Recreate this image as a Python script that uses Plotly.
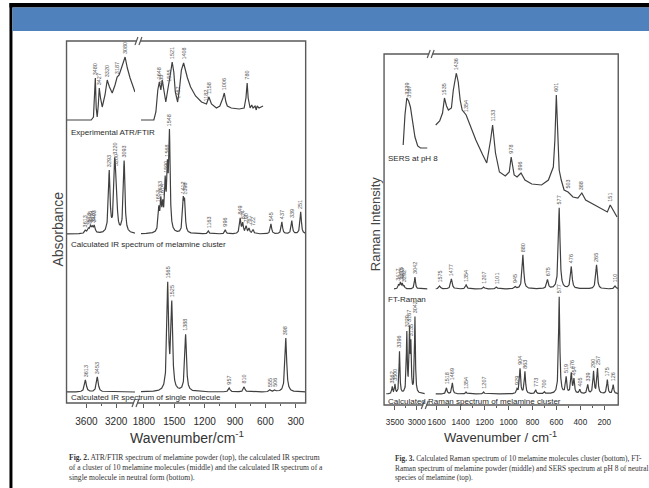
import numpy as np
import plotly.graph_objects as go

W, H = 649, 488

# ---------------------------------------------------------------------------
# Fig. 2 - IR spectra of melamine (absorbance, arbitrary units)
# ---------------------------------------------------------------------------
# Experimental ATR/FTIR trace, high-wavenumber segment
ftir_hi_wn = [3867, 3535, 3505, 3493, 3480, 3468, 3455, 3440, 3427, 3410, 3387, 3350,
              3320, 3290, 3253, 3215, 3187, 3160, 3120, 3080, 3050, 3013, 2947]
ftir_hi_ab = [0, 0, 3, 20, 42, 12, 3, 15, 32, 22, 13, 25,
              40, 33, 27, 35, 43, 45, 55, 63, 52, 42, 28]
ftir_hi_marked = [3480, 3427, 3320, 3187, 3080]
# Experimental ATR/FTIR trace, fingerprint segment
ftir_lo_wn = [1829, 1702, 1682, 1663, 1648, 1633, 1619, 1604, 1584, 1565, 1555, 1540,
              1521, 1505, 1490, 1467, 1450, 1430, 1408, 1390, 1370, 1339, 1290, 1231,
              1182, 1158, 1133, 1084, 1050, 1020, 1006, 990, 976, 937, 859, 810, 792,
              780, 770, 751, 735, 722, 702, 690, 682, 663, 623]
ftir_lo_ab = [0, 0, 8, 30, 38, 30, 40, 28, 18, 30, 35, 45,
              58, 48, 28, 18, 30, 50, 57, 50, 42, 33, 24, 18,
              16, 23, 16, 12, 14, 22, 27, 18, 14, 12, 11, 12, 22,
              37, 22, 12, 15, 12, 14, 10, 14, 12, 14]
ftir_lo_marked = [1648, 1633, 1555, 1521, 1467, 1408, 1182, 1158, 1006, 780]

# Calculated IR spectrum, cluster of 10 molecules (band centre, band height)
clus_hi_pos = [3613, 3573, 3545, 3520, 3493, 3293, 3220, 3200, 3093]
clus_hi_amp = [3, 4, 6, 5, 7, 61, 60, 45, 72]
clus_lo_pos = [1653, 1633, 1614, 1590, 1568, 1548, 1412, 1398, 1163, 996,
               849, 824, 790, 761, 722, 545, 437, 339, 251]
clus_lo_amp = [22, 28, 22, 45, 55, 95, 30, 28, 3, 4,
               15, 10, 7, 5, 4, 10, 12, 13, 22]

# Calculated IR spectrum, single molecule in neutral form
mono_hi_pos = [3613, 3453]
mono_hi_amp = [12, 15]
mono_lo_pos = [1565, 1525, 1388, 957, 810, 555, 506, 398]
mono_lo_amp = [105, 85, 57, 4, 5, 2, 2, 54]

# baselines of the stacked IR traces
IR_BASE = {"ftir": 283, "cluster": 169, "mono": 11}

# ---------------------------------------------------------------------------
# Fig. 3 - Raman spectra of melamine (intensity, arbitrary units)
# ---------------------------------------------------------------------------
# SERS at pH 8, high-wavenumber segment
sers_hi_wn = [3312, 3271, 3229, 3187, 3146, 3104, 3042, 2979, 2917, 2760]
sers_hi_in = [80, 110, 127, 124, 118, 107, 88, 79, 77, 77]
sers_hi_marked = [3229, 3187]
# SERS at pH 8, fingerprint segment
sers_lo_wn = [1608, 1575, 1551, 1535, 1518, 1502, 1477, 1461, 1436, 1420, 1404, 1387,
              1354, 1273, 1215, 1182, 1150, 1133, 1109, 1076, 1027, 994, 978, 953,
              929, 896, 863, 806, 724, 667, 626, 613, 601, 589, 577, 560, 536, 503,
              462, 421, 388, 356, 257, 175, 151, 126, 94]
sers_lo_in = [100, 104, 112, 127, 119, 115, 117, 135, 152, 143, 125, 115,
              110, 85, 70, 62, 85, 100, 72, 53, 49, 53, 68, 50,
              48, 52, 45, 41, 40, 45, 58, 85, 130, 85, 55, 45, 35, 33,
              28, 27, 32, 25, 18, 13, 20, 15, 8]
sers_lo_marked = [1535, 1436, 1354, 1133, 978, 896, 601, 503, 388, 151]

# FT-Raman of melamine powder (band centre, band height)
ftr_hi_pos = [3417, 3375, 3333, 3292, 3042]
ftr_hi_amp = [4, 6, 5, 3, 12]
ftr_lo_pos = [1575, 1477, 1354, 1207, 1101, 945, 880, 675, 577, 476, 265, 110]
ftr_lo_amp = [3, 10, 4, 2, 2, 2, 34, 9, 81, 22, 24, 3]

# Calculated Raman spectrum of the melamine cluster
craman_hi_pos = [3562, 3500, 3396, 3229, 3167, 3135, 3042]
craman_hi_amp = [7, 9, 42, 60, 60, 45, 76]
craman_lo_pos = [1518, 1469, 1354, 1207, 929, 904, 863, 773, 700, 577,
                 519, 476, 454, 405, 339, 290, 257, 175, 126]
craman_lo_amp = [6, 11, 2, 2, 4, 25, 22, 4, 2, 97,
                 16, 20, 14, 4, 9, 22, 25, 14, 9]

# baselines of the stacked Raman traces
RAMAN_BASE = {"sers": 180, "ft": 116, "calc": 11}

# axis tick values
ir_hi_ticks = [3600, 3200]
ir_lo_ticks = [1800, 1500, 1200, 900, 600, 300]
ra_hi_ticks = [3500, 3000]
ra_lo_ticks = [1600, 1400, 1200, 1000, 800, 600, 400, 200]

# ---------------------------------------------------------------------------
LINE = "#404040"
FRAME = "#5a5a5a"
TXT = "#2a2a2a"


def bands(grid, pos, amp, fwhm):
    """Sum of Lorentzian bands evaluated on a wavenumber grid."""
    g = np.asarray(grid, float)[:, None]
    p = np.asarray(pos, float)[None, :]
    a = np.asarray(amp, float)[None, :]
    return (a / (1.0 + ((g - p) / (fwhm / 2.0)) ** 2)).sum(axis=1)


def px_x(x):
    return x / W


def px_y(y):
    return 1 - y / H


fig = go.Figure()
annotations = []


def add_trace(x, y, xa, ya):
    fig.add_trace(go.Scatter(x=x, y=y, mode="lines", xaxis=xa, yaxis=ya,
                             line=dict(color=LINE, width=1.2),
                             hoverinfo="skip", showlegend=False))


def mark(xa, ya, wn, yval):
    annotations.append(dict(x=wn, y=yval, xref=xa, yref=ya, text=str(int(round(wn))),
                            textangle=-90, showarrow=False, xanchor="center",
                            yanchor="bottom", yshift=1,
                            font=dict(size=5.5, color="#555", family="Liberation Sans")))


def band_spectrum(lo, hi, step, pos, amp, fwhm, base, xa, ya, label=True):
    grid = np.arange(lo, hi + step, step)
    add_trace(grid, base + bands(grid, pos, amp, fwhm), xa, ya)
    if label:
        tops = base + bands(pos, pos, amp, fwhm)
        for p, t in zip(pos, tops):
            mark(xa, ya, p, t)


def point_spectrum(wn, val, marked, base, xa, ya):
    add_trace(wn, [base + v for v in val], xa, ya)
    order = np.argsort(wn)
    ws = np.asarray(wn, float)[order]
    vs = np.asarray(val, float)[order]
    for m in marked:
        mark(xa, ya, m, base + float(np.interp(m, ws, vs)))


# ----- IR panel (x = high segment, x2 = fingerprint segment, y) -----
point_spectrum(ftir_hi_wn, ftir_hi_ab, ftir_hi_marked, IR_BASE["ftir"], "x", "y")
point_spectrum(ftir_lo_wn, ftir_lo_ab, ftir_lo_marked, IR_BASE["ftir"], "x2", "y")
band_spectrum(2947, 3867, 2, clus_hi_pos, clus_hi_amp, 26, IR_BASE["cluster"], "x", "y")
band_spectrum(202, 1829, 1, clus_lo_pos, clus_lo_amp, 16, IR_BASE["cluster"], "x2", "y")
band_spectrum(2947, 3867, 2, mono_hi_pos, mono_hi_amp, 30, IR_BASE["mono"], "x", "y")
band_spectrum(202, 1829, 1, mono_lo_pos, mono_lo_amp, 20, IR_BASE["mono"], "x2", "y")

# ----- Raman panel (x3 = high segment, x4 = fingerprint segment, y2) -----
point_spectrum(sers_hi_wn, sers_hi_in, sers_hi_marked, RAMAN_BASE["sers"], "x3", "y2")
point_spectrum(sers_lo_wn, sers_lo_in, sers_lo_marked, RAMAN_BASE["sers"], "x4", "y2")
band_spectrum(2760, 3521, 2, ftr_hi_pos, ftr_hi_amp, 30, RAMAN_BASE["ft"], "x3", "y2")
band_spectrum(85, 1608, 1, ftr_lo_pos, ftr_lo_amp, 16, RAMAN_BASE["ft"], "x4", "y2")
band_spectrum(2820, 3700, 2, craman_hi_pos, craman_hi_amp, 24, RAMAN_BASE["calc"], "x3", "y2")
band_spectrum(85, 1608, 1, craman_lo_pos, craman_lo_amp, 12, RAMAN_BASE["calc"], "x4", "y2")


def xaxis(domain_px, rng, ticks, anchor, fsize):
    minor = []
    for a, b in zip(ticks[:-1], ticks[1:]):
        minor.append((a + b) / 2)
    return dict(domain=[px_x(domain_px[0]), px_x(domain_px[1])], range=rng, anchor=anchor,
                tickmode="array", tickvals=ticks, ticks="outside", ticklen=4,
                tickwidth=1, tickcolor=FRAME, showline=False, showgrid=False,
                zeroline=False, ticklabelstandoff=5, tickangle=0,
                tickfont=dict(size=fsize, color=TXT, family="Liberation Sans"),
                minor=dict(tickmode="array", tickvals=minor, ticks="outside",
                           ticklen=2, tickcolor=FRAME))


def yaxis(top_px, bottom_px, anchor):
    return dict(domain=[px_y(bottom_px), px_y(top_px)], range=[0, bottom_px - top_px],
                anchor=anchor, visible=False, showgrid=False, zeroline=False)


IR_L, IR_R, IR_T, IR_B = 62, 303, 41, 403
RA_L, RA_R, RA_T, RA_B = 382, 618, 54, 405

layout = dict(
    width=W, height=H, margin=dict(l=0, r=0, t=0, b=0),
    paper_bgcolor="white", plot_bgcolor="rgba(0,0,0,0)",
    xaxis=xaxis((IR_L, 131), [3867, 2947], ir_hi_ticks, "y", 10),
    xaxis2=xaxis((134, IR_R), [1859, 202], ir_lo_ticks, "y", 10),
    xaxis3=xaxis((RA_L, 427), [3750, 2727], ra_hi_ticks, "y2", 8.2),
    xaxis4=xaxis((429, RA_R), [1650, 84], ra_lo_ticks, "y2", 8.2),
    yaxis=yaxis(IR_T, IR_B, "x"),
    yaxis2=yaxis(RA_T, RA_B, "x3"),
)

shapes = []


def rect(x0, y0, x1, y1, fill=None, line=None, width=0):
    shapes.append(dict(type="rect", xref="paper", yref="paper",
                       x0=px_x(x0), x1=px_x(x1), y0=px_y(y1), y1=px_y(y0),
                       fillcolor=fill if fill else "rgba(0,0,0,0)",
                       line=dict(color=line if line else "rgba(0,0,0,0)", width=width),
                       layer="above"))


def seg(x0, y0, x1, y1, color=FRAME, width=1.2):
    shapes.append(dict(type="line", xref="paper", yref="paper",
                       x0=px_x(x0), x1=px_x(x1), y0=px_y(y0), y1=px_y(y1),
                       line=dict(color=color, width=width), layer="above"))


# slide background: black edge and blue title band
rect(4.5, 3, 7.5, H, fill="black")
rect(4.5, 3, W, 7.5, fill="black")
rect(7.5, 7.5, W, 31, fill="#4f81bd")

# plot frames
rect(IR_L, IR_T, IR_R, IR_B, line=FRAME, width=1.4)
rect(RA_L, RA_T, RA_R, RA_B, line=FRAME, width=1.4)


def axis_break(xc, yc):
    rect(xc - 1.5, yc - 2, xc + 1.5, yc + 2, fill="white")
    seg(xc - 3.5, yc + 4, xc - 0.5, yc - 4)
    seg(xc + 0.5, yc + 4, xc + 3.5, yc - 4)


axis_break(134.5, IR_T)
axis_break(131.5, IR_B)
axis_break(429, RA_T)
axis_break(423, RA_B)


def text(x, y, s, size=8, anchor="left", angle=0, family="Liberation Sans", color=TXT,
         yanchor="middle", align="left"):
    annotations.append(dict(x=px_x(x), y=px_y(y), xref="paper", yref="paper", text=s,
                            showarrow=False, xanchor=anchor, yanchor=yanchor,
                            textangle=angle, align=align,
                            font=dict(size=size, color=color, family=family)))


text(65, 133, "Experimental ATR/FTIR")
text(65, 244, "Calculated IR spectrum of melamine cluster")
text(65, 397, "Calculated IR spectrum of single molecule")
text(53, 229, "Absorbance", size=14, anchor="center", angle=-90, color="#444")
text(183, 437, "Wavenumber/cm<sup>-1</sup>", size=14, anchor="center", color="#333")

text(384, 158, "SERS at pH 8")
text(384, 299, "FT-Raman")
text(384, 401, "Calculated Raman spectrum of melamine cluster")
text(373, 224, "Raman Intensity", size=13, anchor="center", angle=-90, color="#444")
text(499, 437, "Wavenumber / cm<sup>-1</sup>", size=13, anchor="center", color="#333")

text(62, 451,
     "<b>Fig. 2.</b> ATR/FTIR spectrum of melamine powder (top), the calculated IR spectrum<br>"
     "of a cluster of 10 melamine molecules (middle) and the calculated IR spectrum of a<br>"
     "single molecule in neutral form (bottom).",
     size=7.6, family="Liberation Serif", color="#333", yanchor="top")
text(391, 452,
     "<b>Fig. 3.</b> Calculated Raman spectrum of 10 melamine molecules cluster (bottom), FT-<br>"
     "Raman spectrum of melamine powder (middle) and SERS spectrum at pH 8 of neutral<br>"
     "species of melamine (top).",
     size=7.35, family="Liberation Serif", color="#333", yanchor="top")

layout["shapes"] = shapes
layout["annotations"] = annotations
fig.update_layout(**layout)
fig.write_html("out.html")
